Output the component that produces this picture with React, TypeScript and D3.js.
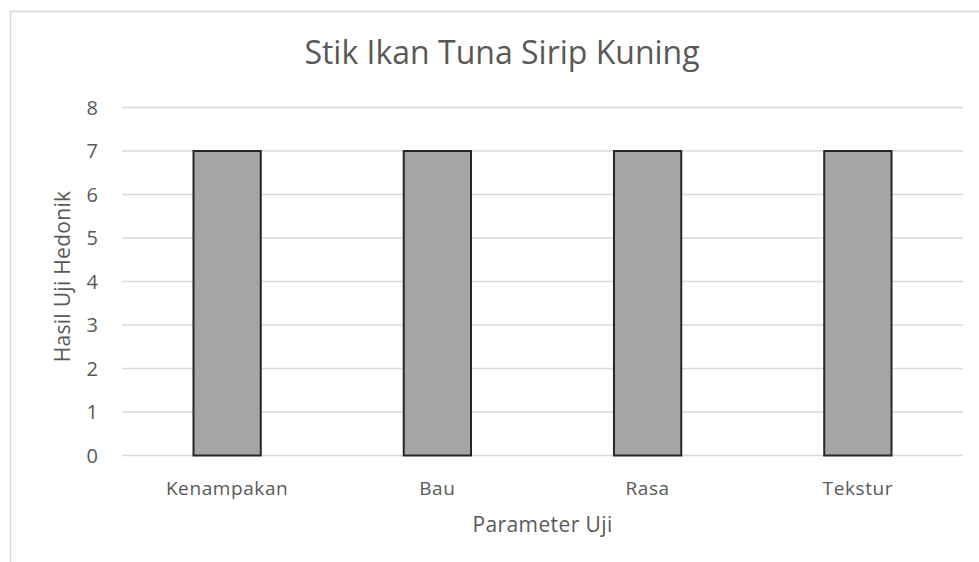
import React, { useEffect, useRef } from "react";
import * as d3 from "d3";

const categories = ["Kenampakan", "Bau", "Rasa", "Tekstur"];
const values = [7, 7, 7, 7];
const yTicks = [0, 1, 2, 3, 4, 5, 6, 7, 8];

export default function App() {
  const ref = useRef<SVGSVGElement | null>(null);

  useEffect(() => {
    const svg = d3.select(ref.current);
    svg.selectAll("*").remove();

    const font = "'Open Sans', 'DejaVu Sans', sans-serif";
    const textColor = "#595959";
    const left = 122;
    const right = 963;
    const top = 107.5;
    const bottom = 455.5;

    // chart frame, runs past the right and bottom edges
    svg
      .append("rect")
      .attr("x", 10.5)
      .attr("y", 11.5)
      .attr("width", 1000)
      .attr("height", 600)
      .attr("fill", "#fff")
      .attr("stroke", "#d9d9d9")
      .attr("stroke-width", 1.5);

    const x = d3
      .scaleBand()
      .domain(categories)
      .range([left, right])
      .paddingInner(0.68)
      .paddingOuter(0.34);

    const y = d3.scaleLinear().domain([0, 8]).range([bottom, top]);

    // gridlines
    svg
      .append("g")
      .selectAll("line")
      .data(yTicks)
      .enter()
      .append("line")
      .attr("x1", left)
      .attr("x2", right)
      .attr("y1", (d) => y(d))
      .attr("y2", (d) => y(d))
      .attr("stroke", "#d9d9d9")
      .attr("stroke-width", 1.5);

    // y tick labels
    svg
      .append("g")
      .selectAll("text")
      .data(yTicks)
      .enter()
      .append("text")
      .attr("x", 98)
      .attr("y", (d) => y(d))
      .attr("dy", "0.36em")
      .attr("text-anchor", "end")
      .attr("font-family", font)
      .attr("font-size", 20)
      .attr("fill", textColor)
      .text((d) => d);

    // bars
    svg
      .append("g")
      .selectAll("rect")
      .data(values)
      .enter()
      .append("rect")
      .attr("x", (d, i) => x(categories[i])!)
      .attr("y", (d) => y(d))
      .attr("width", x.bandwidth())
      .attr("height", (d) => y(0) - y(d))
      .attr("fill", "#a5a5a5")
      .attr("stroke", "#262626")
      .attr("stroke-width", 2);

    // category labels
    svg
      .append("g")
      .selectAll("text")
      .data(categories)
      .enter()
      .append("text")
      .attr("x", (d) => x(d)! + x.bandwidth() / 2)
      .attr("y", 495)
      .attr("text-anchor", "middle")
      .attr("font-family", font)
      .attr("font-size", 19)
      .attr("letter-spacing", 0.6)
      .attr("fill", textColor)
      .text((d) => d);

    // title
    svg
      .append("text")
      .attr("x", 502)
      .attr("y", 64)
      .attr("text-anchor", "middle")
      .attr("font-family", font)
      .attr("font-size", 32)
      .attr("fill", textColor)
      .text("Stik Ikan Tuna Sirip Kuning");

    // axis titles
    svg
      .append("text")
      .attr("x", (left + right) / 2)
      .attr("y", 532)
      .attr("text-anchor", "middle")
      .attr("font-family", font)
      .attr("font-size", 21)
      .attr("letter-spacing", 0.4)
      .attr("fill", textColor)
      .text("Parameter Uji");

    svg
      .append("text")
      .attr("transform", `translate(70, ${(190 + 363) / 2}) rotate(-90)`)
      .attr("text-anchor", "middle")
      .attr("font-family", font)
      .attr("font-size", 21)
      .attr("letter-spacing", 0.3)
      .attr("fill", textColor)
      .text("Hasil Uji Hedonik");
  }, []);

  return (
    <svg
      ref={ref}
      width={979}
      height={562}
      style={{ position: "absolute", left: 0, top: 0, background: "#fff" }}
    />
  );
}
